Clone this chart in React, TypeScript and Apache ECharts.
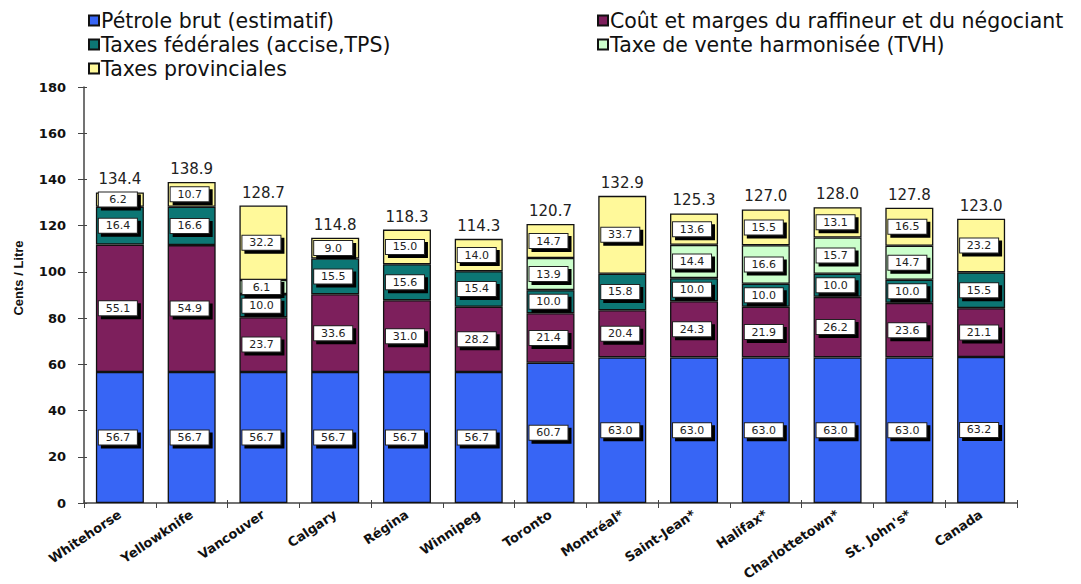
import React, { useEffect, useRef } from "react";
import * as echarts from "echarts";

const categories = [
  "Whitehorse", "Yellowknife", "Vancouver", "Calgary", "Régina", "Winnipeg", "Toronto",
  "Montréal*", "Saint-Jean*", "Halifax*", "Charlottetown*", "St. John's*", "Canada",
];
const crude = [56.7, 56.7, 56.7, 56.7, 56.7, 56.7, 60.7, 63.0, 63.0, 63.0, 63.0, 63.0, 63.2];
const refiner = [55.1, 54.9, 23.7, 33.6, 31.0, 28.2, 21.4, 20.4, 24.3, 21.9, 26.2, 23.6, 21.1];
const federal = [16.4, 16.6, 10.0, 15.5, 15.6, 15.4, 10.0, 15.8, 10.0, 10.0, 10.0, 10.0, 15.5];
const hst = [null, null, 6.1, null, null, null, 13.9, null, 14.4, 16.6, 15.7, 14.7, null];
const provincial = [6.2, 10.7, 32.2, 9.0, 15.0, 14.0, 14.7, 33.7, 13.6, 15.5, 13.1, 16.5, 23.2];
const totals = [134.4, 138.9, 128.7, 114.8, 118.3, 114.3, 120.7, 132.9, 125.3, 127.0, 128.0, 127.8, 123.0];
const yTicks = [0, 20, 40, 60, 80, 100, 120, 140, 160, 180];

const names = [
  "Pétrole brut (estimatif)",
  "Coût et marges du raffineur et du négociant",
  "Taxes fédérales (accise,TPS)",
  "Taxe de vente harmonisée (TVH)",
  "Taxes provinciales",
];
const colors = ["#3765F5", "#7D1F5C", "#0C7674", "#CCFFCC", "#FFF99A"];
const seriesData = [crude, refiner, federal, hst, provincial];

export default function App() {
  const ref = useRef<HTMLDivElement>(null);
  useEffect(() => {
    const chart = echarts.init(ref.current!, null, { renderer: "svg" });
    const dv = "DejaVu Sans, Verdana, sans-serif";
    const lib = "Liberation Sans, Arial, sans-serif";
    const boxLabel = {
      show: true,
      position: "inside",
      formatter: (p: any) => (p.value == null ? "" : Number(p.value).toFixed(1)),
      fontFamily: dv,
      fontSize: 11,
      color: "#222",
      backgroundColor: "#fff",
      borderColor: "#222",
      borderWidth: 1,
      width: 28,
      align: "center",
      padding: [2, 5, 1, 5],
      shadowColor: "#000",
      shadowBlur: 0,
      shadowOffsetX: 3,
      shadowOffsetY: 3,
      offset: [-2, 0],
    };
    const bars = names.map((n, i) => ({
      name: n,
      type: "bar",
      stack: "total",
      barWidth: 48,
      data: seriesData[i],
      itemStyle: { color: colors[i], borderColor: "#111", borderWidth: 1.3 },
      label: boxLabel,
    }));
    const legendBase = {
      orient: "vertical",
      top: 5,
      itemGap: 3,
      itemWidth: 10,
      itemHeight: 10,
      icon: "rect",
      textStyle: { fontFamily: dv, fontSize: 20.5, lineHeight: 21, color: "#111", padding: [0, 0, 0, -3] },
    };
    chart.setOption({
      animation: false,
      legend: [
        { ...legendBase, data: [names[0], names[2], names[4]], left: 83 },
        { ...legendBase, data: [names[1], names[3]], left: 592 },
      ],
      grid: { left: 84, right: 64, top: 87, bottom: 81 },
      graphic: [
        {
          type: "text",
          x: 18,
          y: 278,
          rotation: Math.PI / 2,
          style: {
            text: "Cents / Litre",
            fontFamily: lib,
            fontSize: 13,
            fontWeight: "bold",
            fill: "#111",
            align: "center",
            verticalAlign: "middle",
          },
        },
      ],
      xAxis: [
        {
          type: "category",
          data: categories,
          axisLine: { lineStyle: { color: "#444", width: 1.5 } },
          axisTick: { show: true, length: 5, lineStyle: { color: "#444" } },
          axisLabel: {
            rotate: 34,
            interval: 0,
            margin: 10,
            fontFamily: dv,
            fontSize: 13,
            fontWeight: "bold",
            color: "#111",
          },
        },
        {
          type: "category",
          data: categories,
          position: "bottom",
          axisLine: { show: false },
          axisTick: { show: true, inside: true, length: 3, lineStyle: { color: "#444" } },
          axisLabel: { show: false },
        },
      ],
      yAxis: [
        {
          type: "value",
          min: 0,
          max: 180,
          interval: 20,
          axisLine: { show: true, lineStyle: { color: "#444", width: 1.5 } },
          axisTick: { show: true, length: 6, lineStyle: { color: "#444" } },
          splitLine: { show: false },
          axisLabel: {
            margin: 18,
            fontFamily: dv,
            fontSize: 13,
            fontWeight: "bold",
            color: "#111",
            formatter: (v: number) => (yTicks.includes(v) ? String(v) : ""),
          },
        },
        {
          type: "value",
          min: 0,
          max: 180,
          interval: 20,
          position: "left",
          axisLine: { show: false },
          axisTick: { show: true, inside: true, length: 3, lineStyle: { color: "#444" } },
          splitLine: { show: false },
          axisLabel: { show: false },
        },
      ],
      series: [
        ...bars,
        {
          name: "Total",
          type: "line",
          data: totals,
          symbol: "circle",
          symbolSize: 1,
          itemStyle: { color: "transparent" },
          lineStyle: { width: 0, color: "transparent" },
          silent: true,
          label: {
            show: true,
            position: "top",
            distance: 5,
            formatter: (p: any) => Number(p.value).toFixed(1),
            fontFamily: dv,
            fontSize: 15,
            color: "#222",
          },
        },
      ],
    });
    return () => chart.dispose();
  }, []);
  return (
    <div
      ref={ref}
      style={{ position: "absolute", left: 0, top: 0, width: 1081, height: 584 }}
    />
  );
}
